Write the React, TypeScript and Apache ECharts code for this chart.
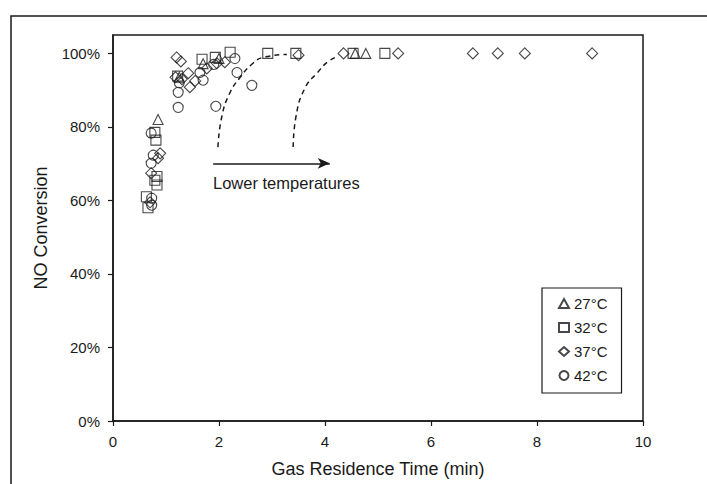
import React, { useEffect, useRef } from "react";
import * as echarts from "echarts";

const seriesNames = ["27°C", "32°C", "37°C", "42°C"];
const seriesSymbols = ["triangle", "rect", "diamond", "circle"];

const data27: number[][] = [
  [0.85, 82], [1.25, 93.5], [1.7, 97.2], [2.0, 98.6], [4.57, 100], [4.77, 100],
];
const data32: number[][] = [
  [0.63, 61], [0.66, 58], [0.79, 65.5], [0.83, 64.2], [0.81, 76.4], [0.79, 78.5],
  [0.83, 66.5], [1.22, 93.8], [1.68, 98.4], [1.93, 98.9], [2.21, 100.3], [2.92, 100],
  [3.45, 100], [4.53, 100], [5.13, 100],
];
const data37: number[][] = [
  [0.7, 59.5], [0.72, 67.4], [0.85, 71.5], [0.89, 72.8], [1.2, 98.9], [1.28, 97.8],
  [1.18, 93.5], [1.3, 93], [1.42, 94.6], [1.45, 90.8], [1.55, 92.5], [1.77, 95.9],
  [1.96, 97.3], [2.11, 97.6], [3.5, 99.5], [4.35, 100], [5.38, 100], [6.79, 100],
  [7.26, 100], [7.77, 100], [9.04, 100],
];
const data42: number[][] = [
  [0.73, 58.7], [0.73, 60.6], [0.72, 70.1], [0.76, 72.3], [0.72, 78.3], [1.23, 85.3],
  [1.23, 89.4], [1.25, 92], [1.64, 94.8], [1.7, 92.7], [1.94, 85.6], [2.3, 98.6],
  [2.34, 94.8], [2.62, 91.3], [1.9, 97],
];
const allData = [data27, data32, data37, data42];

// dashed trend curves (annotations)
const curveLeft: number[][] = [
  [1.98, 74.5], [2.05, 82.6], [2.2, 89.1], [2.4, 93.5], [2.64, 97.3], [2.83, 98.9], [3.28, 99.7],
];
const curveRight: number[][] = [
  [3.4, 74.5], [3.45, 82.6], [3.62, 90.5], [3.86, 94.8], [4.06, 97.8], [4.25, 99.2],
];
const arrowFrom = [1.89, 70.1];
const arrowTo = [4.09, 70.1];
const arrowLabel = "Lower temperatures";

const xTitle = "Gas Residence Time (min)";
const yTitle = "NO Conversion";

const FONT = "'Liberation Sans', Arial, sans-serif";
const INK = "#1a1a1a";

export default function App() {
  const ref = useRef<HTMLDivElement>(null);
  useEffect(() => {
    if (!ref.current) return;
    const chart = echarts.init(ref.current, null, { renderer: "svg" });
    const scatter = allData.map((d, i) => ({
      name: seriesNames[i],
      type: "scatter",
      data: d,
      symbol: seriesSymbols[i],
      symbolSize: i === 2 ? 11 : 10,
      itemStyle: { color: "rgba(0,0,0,0)", borderColor: INK, borderWidth: 1.1 },
      z: 5,
    }));
    const curves = [curveLeft, curveRight].map((c) => ({
      type: "line",
      data: c,
      smooth: 0.5,
      showSymbol: false,
      symbol: "none",
      silent: true,
      lineStyle: { color: INK, width: 1.5, type: [5, 4] },
      z: 3,
    }));
    const arrowSeries = {
      type: "line",
      data: [],
      silent: true,
      markLine: {
        silent: true,
        symbol: ["none", "arrow"],
        symbolSize: [8, 12],
        label: { show: false },
        lineStyle: { color: INK, width: 1.5, type: "solid" },
        data: [[{ coord: arrowFrom }, { coord: arrowTo }]],
      },
    };
    chart.setOption({
      animation: false,
      backgroundColor: "#fff",
      textStyle: { fontFamily: FONT, color: INK },
      grid: {
        left: 113, right: 64, top: 35, bottom: 63,
        show: true, borderColor: INK, borderWidth: 1.5,
      },
      legend: {
        orient: "vertical",
        left: 542,
        top: 288,
        width: 80,
        padding: [8, 14, 10, 16],
        borderColor: INK,
        borderWidth: 1.2,
        itemGap: 9,
        itemWidth: 10,
        itemHeight: 9,
        data: seriesNames,
        textStyle: { fontSize: 15, color: INK, fontFamily: FONT, lineHeight: 14 },
      },
      xAxis: {
        type: "value",
        min: 0, max: 10, interval: 2,
        name: xTitle,
        nameLocation: "middle",
        nameGap: 39,
        nameTextStyle: { fontSize: 18, color: INK, fontFamily: FONT },
        axisLine: { show: true, lineStyle: { color: INK, width: 1.5 } },
        axisTick: { show: true, inside: false, length: 5, lineStyle: { color: INK, width: 1.2 } },
        axisLabel: { fontSize: 15, color: INK, margin: 13, fontFamily: FONT },
        splitLine: { show: false },
      },
      yAxis: {
        type: "value",
        min: 0, max: 105, interval: 20,
        name: yTitle,
        nameLocation: "middle",
        nameGap: 63,
        nameTextStyle: { fontSize: 18, color: INK, fontFamily: FONT },
        axisLine: { show: true, lineStyle: { color: INK, width: 1.5 } },
        axisTick: { show: true, inside: false, length: 5, lineStyle: { color: INK, width: 1.2 } },
        axisLabel: {
          fontSize: 15, color: INK, margin: 13, fontFamily: FONT, showMaxLabel: false,
          formatter: (v: number) => (v % 20 === 0 ? v + "%" : ""),
        },
        splitLine: { show: false },
      },
      graphic: [
        {
          type: "rect",
          shape: { x: 11, y: 16, width: 720, height: 500 },
          style: { fill: "none", stroke: INK, lineWidth: 1.5 },
          silent: true,
        },
        {
          type: "text",
          left: 213,
          top: 174,
          style: { text: arrowLabel, fontSize: 16.5, fill: INK, fontFamily: FONT },
          z: 10,
        },
      ],
      series: [...curves, arrowSeries, ...scatter],
    });
    return () => chart.dispose();
  }, []);
  return <div ref={ref} style={{ width: 707, height: 484, position: "absolute", left: 0, top: 0 }} />;
}
